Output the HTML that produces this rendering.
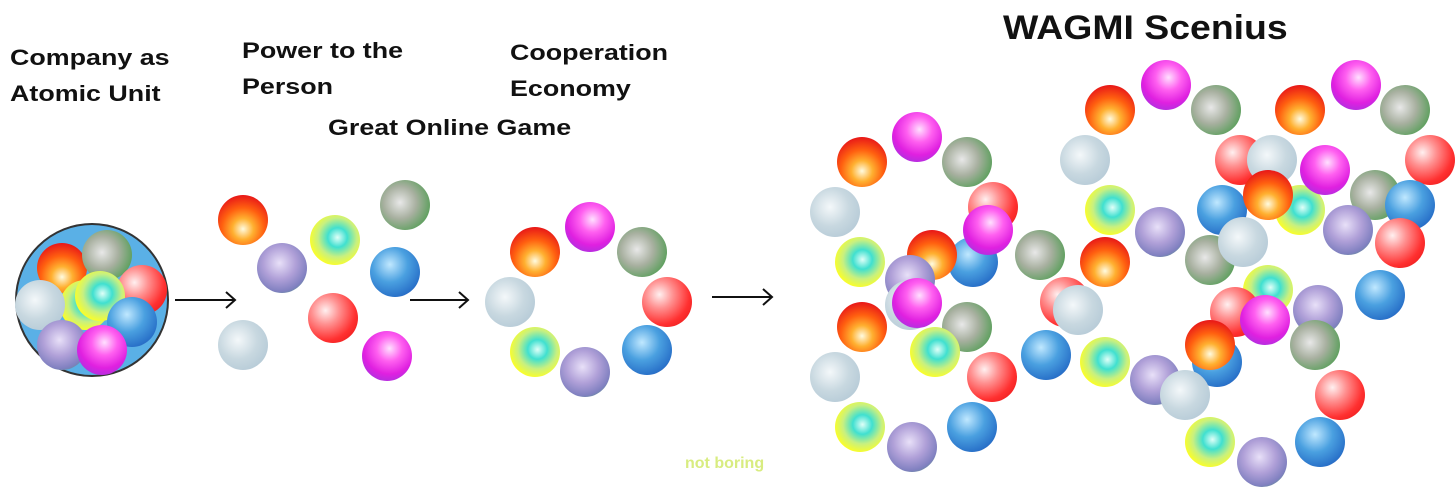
<!DOCTYPE html>
<html><head><meta charset="utf-8"><style>
html,body{margin:0;padding:0;background:#fff;}
#c{position:relative;width:1456px;height:499px;overflow:hidden;background:#fff;font-family:"Liberation Sans",sans-serif;}
.t{position:absolute;font-weight:bold;color:#111;font-size:22px;line-height:36px;transform:scaleX(1.22);transform-origin:0 0;white-space:nowrap;}
.b{position:absolute;width:50px;height:50px;border-radius:50%;}
.o{background:radial-gradient(circle at 50% 68%,#fffbe0 0%,#ffb030 25%,#ff6010 50%,#e81818 80%,#d01030 100%);}
.m{background:radial-gradient(circle at 55% 35%,#ffe0ff 0%,#ff60f0 30%,#e020e0 60%,#8040e0 100%);}
.g{background:radial-gradient(circle at 40% 45%,#e8e8e8 0%,#a8b0a0 40%,#60a060 75%,#30b040 100%);}
.p{background:radial-gradient(circle at 40% 40%,#f4f8fa 0%,#c8d8e0 45%,#b8ccd8 75%,#e8e840 100%);}
.y{background:radial-gradient(circle at 55% 45%,#e0fff8 0%,#40e0d0 25%,#c8f080 50%,#ffff20 75%,#f0f000 100%);}
.u{background:radial-gradient(circle at 40% 35%,#c0e8ff 0%,#4aa0e0 40%,#2870c8 75%,#c06080 100%);}
.r{background:radial-gradient(circle at 35% 35%,#fff0f0 0%,#ff9090 30%,#ff3030 65%,#e01010 100%);}
.v{background:radial-gradient(circle at 45% 40%,#e8e0f8 0%,#b0a0d8 40%,#8080c0 70%,#30b050 100%);}
</style></head><body><div id="c">
<div class="t" style="left:10px;top:40px">Company as<br>Atomic Unit</div>
<div class="t" style="left:242px;top:33px">Power to the<br>Person</div>
<div class="t" style="left:510px;top:35px">Cooperation<br>Economy</div>
<div class="t" style="left:328px;top:110px">Great Online Game</div>
<div class="t" style="left:1003px;top:8px;font-size:34px;line-height:40px;transform:scaleX(1.1)">WAGMI Scenius</div>
<div style="position:absolute;left:685px;top:455px;font-weight:bold;font-size:16px;color:#d8ec80">not boring</div>
<div style="position:absolute;left:15px;top:223px;width:150px;height:150px;border-radius:50%;background:#5ab0e6;border:2px solid #333;"></div>
<svg style="position:absolute;left:0;top:0" width="1456" height="499">
<g stroke="#111" stroke-width="2" fill="none">
<path d="M175 300H234M226 292L235 300L226 308"/>
<path d="M410 300H467M459 292L468 300L459 308"/>
<path d="M712 297H771M763 289L772 297L763 305"/>
</g></svg>
<div id="balls"></div>
<script>
var L=[
[62,268,'o'],[107,255,'g'],[142,290,'r'],[85,305,'y'],[100,296,'y'],[40,305,'p'],[132,322,'u'],[62,345,'v'],[102,350,'m'],
[243,220,'o'],[405,205,'g'],[282,268,'v'],[335,240,'y'],[395,272,'u'],[333,318,'r'],[243,345,'p'],[387,356,'m'],
[535,252,'o'],[590,227,'m'],[642,252,'g'],[667,302,'r'],[647,350,'u'],[585,372,'v'],[535,352,'y'],[510,302,'p'],
[862,162,'o'],[917,137,'m'],[967,162,'g'],[835,212,'p'],[993,207,'r'],[860,262,'y'],[973,262,'u'],[988,230,'m'],[932,255,'o'],
[1040,255,'g'],[910,280,'v'],[910,305,'p'],[917,303,'m'],[862,327,'o'],[967,327,'g'],[935,352,'y'],[992,377,'r'],
[1046,355,'u'],[1065,302,'r'],[1078,310,'p'],[835,377,'p'],[860,427,'y'],[912,447,'v'],[972,427,'u'],
[1110,110,'o'],[1166,85,'m'],[1216,110,'g'],[1085,160,'p'],[1110,210,'y'],[1160,232,'v'],[1105,262,'o'],[1210,260,'g'],
[1222,210,'u'],[1240,160,'r'],[1272,160,'p'],[1300,210,'y'],[1268,195,'o'],[1243,242,'p'],[1300,110,'o'],[1356,85,'m'],
[1405,110,'g'],[1325,170,'m'],[1375,195,'g'],[1430,160,'r'],[1410,205,'u'],[1348,230,'v'],[1400,243,'r'],[1380,295,'u'],
[1268,290,'y'],[1235,312,'r'],[1318,310,'v'],[1265,320,'m'],[1315,345,'g'],[1217,362,'u'],[1210,345,'o'],[1105,362,'y'],
[1155,380,'v'],[1185,395,'p'],[1340,395,'r'],[1320,442,'u'],[1210,442,'y'],[1262,462,'v']];
var h='';L.forEach(function(b){h+='<div class="b '+b[2]+'" style="left:'+(b[0]-25)+'px;top:'+(b[1]-25)+'px"></div>';});
document.getElementById('balls').innerHTML=h;
</script>
</div></body></html>
